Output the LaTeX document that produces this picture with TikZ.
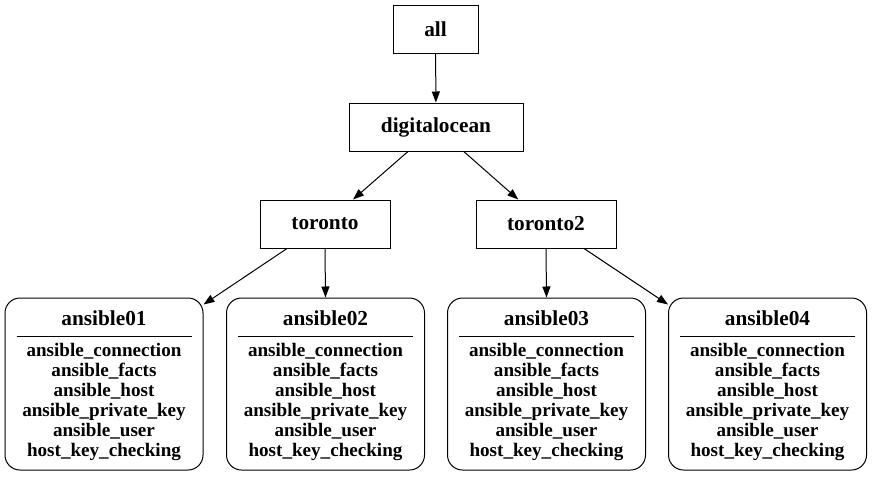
\documentclass[tikz,border=0pt]{standalone}
\usepackage{fontspec}
\setmainfont{Liberation Serif}
\usetikzlibrary{arrows.meta}
\begin{document}
\begin{tikzpicture}[x=1pt,y=-1pt,
  grp/.style={draw, line width=1pt, minimum height=48pt, inner sep=0pt,
    font=\fontsize{21.3}{24}\selectfont\bfseries},
  rec/.style={draw, line width=1pt, rounded corners=15pt, minimum width=198pt,
    minimum height=172pt, inner sep=0pt},
  rtitle/.style={inner sep=0pt, font=\fontsize{21.3}{24}\selectfont\bfseries},
  ritems/.style={inner sep=0pt, align=center, font=\fontsize{19.1}{20}\selectfont\bfseries},
  sep/.style={line width=1pt},
  edge/.style={line width=1pt, -{Triangle[length=11pt,width=8pt]}}
]
\useasboundingbox (0,0) rectangle (872,477);
\node[grp, minimum width=85pt] (all) at (435.5,29) {all};
\node[grp, minimum width=174pt] (do) at (436,127) {digitalocean};
\node[grp, minimum width=130pt] (tor) at (325,224) {toronto};
\node[grp, minimum width=140pt] (tor2) at (546,224) {toronto2};
\foreach \n/\x in {1/104, 2/325.5, 3/546.5, 4/767.5}{
  \node[rec] (a\n) at (\x,384) {};
  \node[rtitle] (t\n) at (\x,318) {ansible0\n};
  \coordinate (sl\n) at (\x-87.5,336);
  \coordinate (sr\n) at (\x+87.5,336);
  \draw[sep] (sl\n) -- (sr\n);
  \node[ritems] (i\n) at (\x,401.5) {ansible\_connection\\ansible\_facts\\ansible\_host\\ansible\_private\_key\\ansible\_user\\host\_key\_checking};
}
\draw[edge] (all) -- (do);
\draw[edge] (do) -- (tor);
\draw[edge] (do) -- (tor2);
\draw[edge] ([xshift=-38pt]tor.south) -- ([yshift=-7pt]a1.north east);
\draw[edge] (tor.south) -- (a2.north);
\draw[edge] (tor2.south) -- (a3.north);
\draw[edge] ([xshift=38pt]tor2.south) -- ([yshift=-7pt]a4.north west);
\end{tikzpicture}
\end{document}
